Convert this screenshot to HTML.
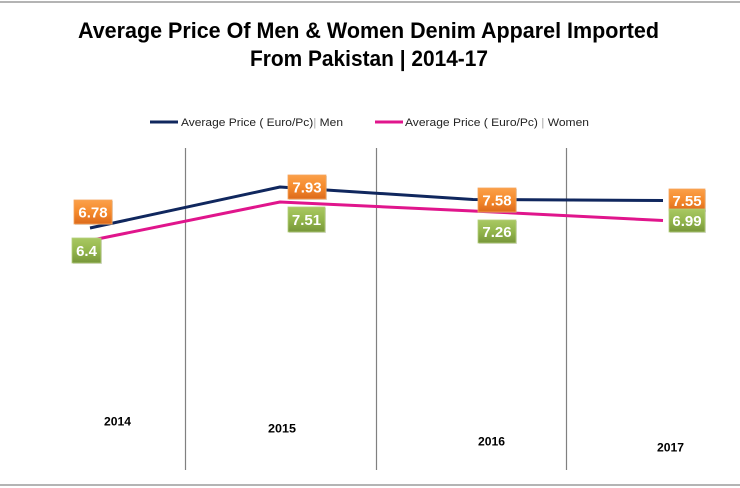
<!DOCTYPE html>
<html><head><meta charset="utf-8"><style>
html,body{margin:0;padding:0;background:#fff;}
svg{display:block;}
</style></head><body>
<svg width="740" height="488" viewBox="0 0 740 488" xmlns="http://www.w3.org/2000/svg">
<defs>
<linearGradient id="og" x1="0" y1="0" x2="0" y2="1">
<stop offset="0" stop-color="#fba049"/><stop offset="0.5" stop-color="#f58a2c"/><stop offset="1" stop-color="#dc6a1c"/>
</linearGradient>
<linearGradient id="gg" x1="0" y1="0" x2="0" y2="1">
<stop offset="0" stop-color="#a9c862"/><stop offset="0.5" stop-color="#93b64c"/><stop offset="1" stop-color="#77963a"/>
</linearGradient>
</defs>
<rect x="0" y="0" width="740" height="488" fill="#fff"/>
<line x1="0" y1="2" x2="740" y2="2" stroke="#888" stroke-width="1.2"/>
<line x1="0" y1="485" x2="740" y2="485" stroke="#888" stroke-width="1.2"/>
<g font-family="'Liberation Sans', sans-serif" font-weight="bold" fill="#000">
<text x="78" y="38" font-size="22" textLength="581" lengthAdjust="spacingAndGlyphs">Average Price Of  Men &amp; Women Denim Apparel Imported</text>
<text x="250" y="66" font-size="22" textLength="238" lengthAdjust="spacingAndGlyphs">From Pakistan | 2014-17</text>
</g>
<!-- legend -->
<line x1="150" y1="122" x2="178" y2="122" stroke="#10275e" stroke-width="3"/>
<text x="181" y="126" font-family="'Liberation Sans', sans-serif" font-size="11" fill="#222" textLength="162" lengthAdjust="spacingAndGlyphs">Average Price ( Euro/Pc)<tspan fill="#aaa">|</tspan> Men</text>
<line x1="375" y1="122" x2="403" y2="122" stroke="#e0158c" stroke-width="3"/>
<text x="405" y="126" font-family="'Liberation Sans', sans-serif" font-size="11" fill="#222" textLength="184" lengthAdjust="spacingAndGlyphs">Average Price ( Euro/Pc)  <tspan fill="#aaa">|</tspan>  Women</text>
<!-- gridlines -->
<g stroke="#808080" stroke-width="1.2">
<line x1="185.5" y1="148" x2="185.5" y2="470"/>
<line x1="376.5" y1="148" x2="376.5" y2="470"/>
<line x1="566.5" y1="148" x2="566.5" y2="470"/>
</g>
<!-- series -->
<polyline points="90,228 280,187 473,199.5 663,200.5" fill="none" stroke="#10275e" stroke-width="3" stroke-linejoin="round"/>
<polyline points="90,240.5 280,202 473,211 663,220.5" fill="none" stroke="#e0158c" stroke-width="3" stroke-linejoin="round"/>
<!-- labels -->
<g font-family="'Liberation Sans', sans-serif" font-weight="bold" font-size="15" fill="#fff" text-anchor="middle">
<g>
<rect x="75" y="201" width="38" height="24" fill="#999" opacity="0.35"/>
<rect x="74" y="200" width="38" height="24" fill="url(#og)" stroke="#f6a55c" stroke-width="0.8"/>
<text x="93" y="217.5">6.78</text>
</g>
<g>
<rect x="289" y="176" width="38" height="24" fill="#999" opacity="0.35"/>
<rect x="288" y="175" width="38" height="24" fill="url(#og)" stroke="#f6a55c" stroke-width="0.8"/>
<text x="307" y="192.5">7.93</text>
</g>
<g>
<rect x="479" y="189" width="38" height="24" fill="#999" opacity="0.35"/>
<rect x="478" y="188" width="38" height="24" fill="url(#og)" stroke="#f6a55c" stroke-width="0.8"/>
<text x="497" y="205.5">7.58</text>
</g>
<g>
<rect x="670" y="190" width="36" height="22" fill="#999" opacity="0.35"/>
<rect x="669" y="189" width="36" height="22" fill="url(#og)" stroke="#f6a55c" stroke-width="0.8"/>
<text x="687" y="206">7.55</text>
</g>
<g>
<rect x="73" y="239" width="29" height="25" fill="#999" opacity="0.35"/>
<rect x="72" y="238" width="29" height="25" fill="url(#gg)" stroke="#b4cf7c" stroke-width="0.8"/>
<text x="86.5" y="256">6.4</text>
</g>
<g>
<rect x="289" y="208" width="37" height="25" fill="#999" opacity="0.35"/>
<rect x="288" y="207" width="37" height="25" fill="url(#gg)" stroke="#b4cf7c" stroke-width="0.8"/>
<text x="306.5" y="225">7.51</text>
</g>
<g>
<rect x="479" y="221" width="38" height="23" fill="#999" opacity="0.35"/>
<rect x="478" y="220" width="38" height="23" fill="url(#gg)" stroke="#b4cf7c" stroke-width="0.8"/>
<text x="497" y="237">7.26</text>
</g>
<g>
<rect x="670" y="210" width="36" height="23" fill="#999" opacity="0.35"/>
<rect x="669" y="209" width="36" height="23" fill="url(#gg)" stroke="#b4cf7c" stroke-width="0.8"/>
<text x="687" y="226">6.99</text>
</g>
</g>
<!-- year labels -->
<g font-family="'Liberation Sans', sans-serif" font-weight="bold" font-size="12" fill="#000">
<text x="104" y="425.5" textLength="27" lengthAdjust="spacingAndGlyphs">2014</text>
<text x="268" y="432.5" textLength="28" lengthAdjust="spacingAndGlyphs">2015</text>
<text x="478" y="445.5" textLength="27" lengthAdjust="spacingAndGlyphs">2016</text>
<text x="657" y="451.5" textLength="27" lengthAdjust="spacingAndGlyphs">2017</text>
</g>
</svg>
</body></html>
